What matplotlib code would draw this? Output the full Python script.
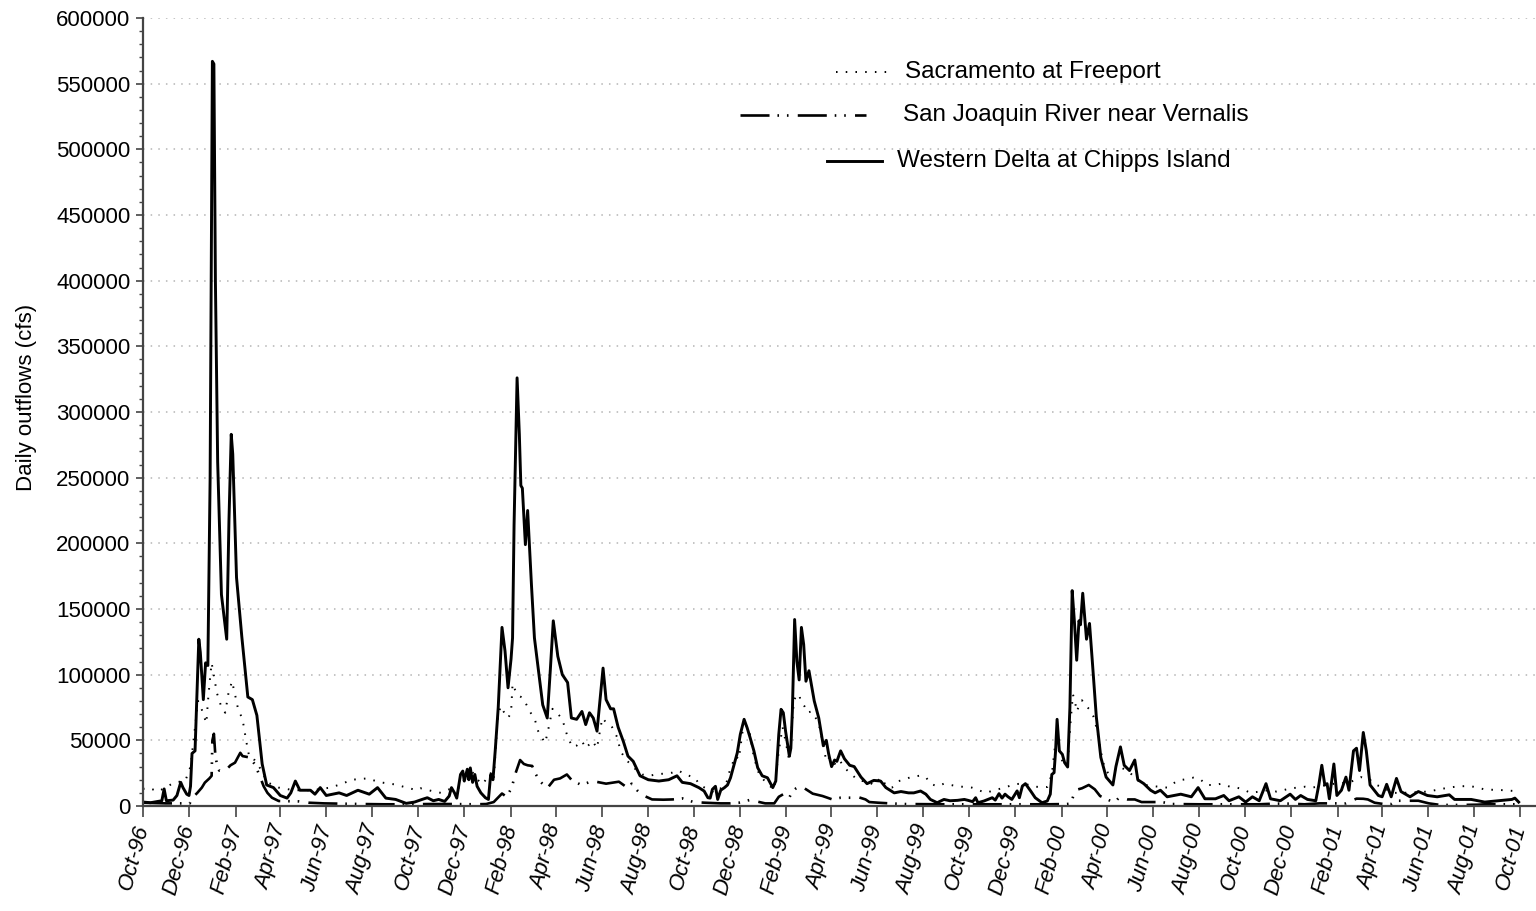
import matplotlib
matplotlib.use("Agg")
import matplotlib.pyplot as plt
import matplotlib.dates as mdates
from matplotlib.lines import Line2D
from matplotlib.ticker import MultipleLocator
import pandas as pd

plt.rcParams["font.family"] = ["Liberation Sans", "DejaVu Sans"]

# values: day offset from 1-Oct-1996, daily outflow (cfs)
start = pd.Timestamp("1996-10-01")

chipps_day = [0, 10, 20, 25, 28, 31, 40, 45, 50, 53, 58, 61, 63, 65, 69, 74, 76, 80, 83, 86,
              89, 92, 94, 96, 99, 104, 111, 114, 117, 119, 124, 131, 139, 145, 151, 158, 164,
              173, 182, 191, 196, 202, 208, 222, 228, 235, 243, 260, 270, 285, 300, 311, 322,
              335, 349, 360, 370, 377, 385, 392, 400, 406, 409, 413, 416, 421, 424, 426, 430,
              432, 434, 437, 440, 443, 448, 454, 458, 461, 464, 467, 471, 476, 480, 484, 488,
              490, 492, 496, 499, 501, 503, 507, 510, 515, 519, 524, 530, 536, 540, 544, 550,
              556, 563, 568, 575, 582, 587, 592, 597, 602, 610, 614, 620, 624, 630, 637, 643,
              650, 659, 670, 684, 697, 708, 715, 726, 737, 744, 749, 752, 755, 759, 762, 766,
              771, 775, 779, 784, 788, 792, 797, 801, 805, 810, 815, 821, 828, 835, 839, 843,
              846, 849, 852, 857, 859, 861, 864, 867, 870, 873, 876, 879, 883, 887, 890, 896,
              902, 906, 909, 913, 917, 920, 925, 930, 937, 943, 952, 960, 969, 978, 985, 996,
              1005, 1015, 1022, 1031, 1038, 1044, 1053, 1062, 1070, 1080, 1089, 1094, 1100,
              1104, 1107, 1115, 1126, 1130, 1135, 1139, 1143, 1147, 1152, 1159, 1162, 1166,
              1170, 1177, 1183, 1192, 1199, 1203, 1205, 1208, 1210, 1212, 1215, 1219, 1222,
              1226, 1229, 1232, 1235, 1238, 1241, 1243, 1246, 1251, 1255, 1259, 1264, 1270,
              1277, 1286, 1290, 1296, 1301, 1308, 1315, 1319, 1327, 1336, 1342, 1349, 1358,
              1376, 1390, 1399, 1408, 1422, 1433, 1440, 1453, 1462, 1471, 1480, 1489, 1495,
              1508, 1521, 1528, 1535, 1544, 1555, 1559, 1563, 1567, 1570, 1573, 1579, 1583,
              1589, 1595, 1599, 1605, 1609, 1613, 1618, 1622, 1627, 1638, 1643, 1649, 1655,
              1662, 1668, 1680, 1691, 1703, 1716, 1732, 1739, 1761, 1779, 1797, 1815, 1819, 1824]
chipps_cfs = [3000, 2500, 3500, 4000, 13000, 4000, 4500, 8000, 18000, 14000, 9000, 8000, 15000,
              40000, 42000, 127000, 117000, 81000, 109000, 107000, 250000, 567000, 565000,
              400000, 262000, 161000, 127000, 218000, 283000, 268000, 174000, 129000, 83000,
              81000, 69000, 32000, 16000, 14000, 8000, 6000, 10000, 19000, 12000, 12000, 9000,
              14000, 8000, 10000, 8000, 12000, 9000, 14000, 6000, 5000, 2000, 3000, 5000, 6300,
              4000, 5000, 3500, 7600, 14000, 10000, 6000, 24000, 26600, 19000, 28000, 20000,
              29000, 18000, 24000, 15000, 10000, 6300, 5000, 24000, 20000, 42000, 75000, 136000,
              118000, 90000, 112000, 128000, 214000, 326000, 283000, 244000, 242000, 199000,
              225000, 169000, 128000, 105000, 77000, 67000, 103000, 141000, 114000, 100000,
              94000, 67000, 66000, 72000, 62000, 71000, 67000, 57000, 105000, 81000, 74000,
              74000, 60000, 49000, 38000, 34000, 23000, 20000, 19000, 20000, 23000, 18000,
              17000, 14000, 11400, 6300, 6000, 12700, 15000, 5000, 12000, 14000, 16000, 21500,
              32000, 40600, 54600, 66000, 59600, 52000, 42000, 29200, 23000, 21500, 14000,
              19000, 54600, 73600, 71000, 57000, 38000, 44000, 72000, 142000, 110000, 96000,
              136000, 123000, 95000, 103000, 90000, 80000, 67000, 46000, 50000, 40000, 30000,
              35000, 34000, 42000, 36000, 31000, 30000, 22000, 17000, 19500, 19000, 14000,
              10000, 11000, 10000, 10000, 11400, 9000, 5000, 2500, 5000, 4000, 4300, 5000,
              4300, 3300, 6300, 2500, 3800, 6300, 4500, 9400, 6000, 9000, 7000, 5000, 11500,
              6300, 15200, 17000, 11400, 6300, 2500, 3800, 9000, 24000, 25400, 42000, 66000,
              42000, 39300, 33000, 29700, 75000, 164000, 140000, 111000, 141000, 138000,
              162000, 127000, 139000, 108000, 68000, 37000, 22000, 16000, 30000, 45000, 31000,
              27000, 35000, 20000, 17000, 12000, 10000, 12000, 7000, 9000, 7000, 14000, 5500,
              5500, 8000, 4000, 7000, 3000, 7000, 4000, 17000, 5500, 4000, 9000, 5000, 8000,
              5000, 4000, 16000, 31000, 16000, 17000, 5500, 32000, 8000, 12000, 22000, 12000,
              42000, 44000, 27000, 56000, 42000, 16000, 8000, 7000, 16500, 7000, 21000, 11000,
              7000, 11000, 8000, 7000, 8500, 5000, 5000, 3000, 4000, 5000, 6000, 3000]

sac_day = [0, 7, 20, 42, 56, 63, 69, 73, 77, 84, 86, 89, 91, 94, 98, 103, 109, 113, 118, 122,
           126, 132, 137, 141, 148, 155, 165, 180, 200, 225, 248, 262, 277, 297, 315, 333, 350,
           363, 368, 386, 395, 406, 420, 434, 441, 450, 461, 465, 470, 474, 478, 484, 488, 490,
           494, 498, 503, 507, 514, 520, 524, 529, 533, 536, 538, 543, 549, 556, 562, 569, 575,
           582, 587, 596, 602, 604, 609, 615, 622, 629, 633, 640, 646, 653, 662, 671, 680, 690,
           702, 710, 719, 732, 738, 749, 758, 766, 773, 779, 786, 790, 795, 799, 804, 810, 817,
           828, 837, 843, 848, 852, 857, 860, 863, 866, 870, 872, 877, 881, 886, 892, 897, 901,
           906, 910, 917, 923, 930, 938, 947, 954, 960, 969, 978, 987, 993, 1002, 1009, 1018,
           1029, 1038, 1044, 1053, 1062, 1071, 1080, 1089, 1099, 1108, 1118, 1128, 1137, 1146,
           1155, 1164, 1172, 1181, 1190, 1199, 1205, 1210, 1214, 1219, 1226, 1230, 1233, 1236,
           1238, 1241, 1245, 1248, 1255, 1260, 1265, 1269, 1275, 1281, 1287, 1292, 1298, 1305,
           1311, 1320, 1329, 1338, 1349, 1358, 1364, 1373, 1382, 1393, 1402, 1410, 1421, 1430,
           1441, 1450, 1459, 1468, 1481, 1492, 1503, 1512, 1521, 1532, 1541, 1550, 1560, 1580,
           1600, 1615, 1627, 1633, 1645, 1656, 1670, 1690, 1703, 1713, 1731, 1745, 1760, 1780,
           1799, 1819, 1824]
sac_cfs = [13000, 14000, 11000, 18000, 19000, 30000, 60000, 80000, 75000, 63000, 79000, 98000,
           109000, 99000, 86000, 77000, 71000, 85000, 95000, 85000, 74000, 66000, 49000, 37000,
           35000, 29000, 18000, 14000, 12000, 12000, 14000, 16500, 20000, 21000, 18000, 16500,
           14000, 12000, 13500, 11000, 10000, 12700, 14000, 29000, 21500, 16500, 25000, 20000,
           65000, 76000, 72000, 67000, 71000, 93000, 87500, 84000, 82500, 78700, 71000, 65000,
           57000, 52000, 48000, 54500, 60000, 74000, 71000, 66000, 54500, 45000, 46000, 49500,
           44000, 49500, 44000, 51000, 67000, 63000, 60000, 52000, 42000, 35500, 32000, 28000,
           24000, 23000, 24000, 24600, 25400, 27000, 24000, 21500, 16000, 12700, 10000, 13500,
           16500, 29000, 38000, 35500, 57000, 62000, 57000, 37000, 24000, 16500, 12700, 42000,
           60000, 49500, 34000, 58000, 80000, 84000, 85000, 80000, 76000, 71000, 72000, 67000,
           60000, 49500, 34000, 37000, 32000, 35500, 29000, 25000, 20000, 19000, 19000, 16000,
           21500, 14500, 14000, 19000, 20000, 22000, 23000, 22000, 17000, 15000, 17000, 16000,
           15000, 14500, 14000, 12000, 10000, 12000, 13200, 14700, 16500, 17000, 16500, 14700,
           14500, 14500, 24000, 49500, 44000, 34000, 32000, 65000, 85000, 78700, 72000, 76000,
           80500, 77400, 73600, 68500, 58000, 44000, 29000, 24000, 25400, 29000, 29000, 26600,
           24000, 19000, 16000, 15200, 14500, 14000, 16500, 19500, 20300, 21600, 20300, 16000,
           16000, 17000, 14700, 14000, 12700, 10000, 11000, 12000, 11000, 12000, 13500, 14000,
           14700, 14000, 15000, 17000, 18000, 22000, 20000, 16500, 14000, 10000, 10000, 10500,
           11000, 12000, 14000, 15000, 15200, 12500, 12200, 11400, 11000]

sj_day = [0, 30, 56, 62, 65, 72, 78, 82, 88, 91, 92, 94, 96, 98, 101, 107, 111, 116, 122, 129,
          132, 141, 148, 154, 160, 165, 171, 180, 207, 220, 240, 260, 290, 320, 350, 380, 410,
          440, 455, 465, 470, 476, 482, 487, 490, 494, 500, 505, 510, 516, 521, 526, 536, 545,
          553, 562, 568, 581, 596, 605, 614, 631, 642, 648, 655, 665, 675, 690, 702, 715, 730,
          745, 766, 779, 790, 804, 815, 825, 837, 843, 849, 857, 861, 866, 870, 877, 888, 901,
          914, 925, 938, 947, 958, 963, 975, 990, 1010, 1030, 1060, 1090, 1120, 1150, 1180,
          1200, 1225, 1230, 1235, 1240, 1245, 1254, 1262, 1269, 1285, 1290, 1294, 1305, 1315,
          1324, 1351, 1365, 1400, 1440, 1480, 1500, 1520, 1540, 1560, 1580, 1595, 1609, 1618,
          1624, 1633, 1645, 1655, 1662, 1691, 1705, 1720, 1749, 1770, 1780, 1806, 1824]
sj_cfs = [2500, 2000, 2000, 2000, 6000, 10000, 14000, 17800, 21000, 23000, 50000, 55000, 38000,
          32000, 27000, 27500, 28000, 31000, 33000, 40500, 38000, 37000, 32000, 24000, 15000,
          10000, 6300, 3800, 3500, 2500, 2000, 1800, 1500, 1300, 1300, 1500, 1500, 1300, 1500,
          3000, 6000, 9500, 7000, 12000, 16500, 25000, 35000, 32000, 31000, 30500, 24000, 19000,
          13500, 20000, 21000, 24000, 20000, 16000, 19000, 18000, 17000, 18500, 14000, 17000,
          12000, 7600, 5000, 4800, 5000, 5800, 3000, 2500, 2000, 2000, 2500, 4500, 3300, 2000,
          2000, 7000, 9000, 6500, 11000, 13500, 14700, 13500, 9400, 7600, 5000, 6300, 6300, 7000,
          5000, 3000, 2500, 2000, 1500, 1400, 1300, 1300, 1300, 1300, 1300, 1300, 1500, 1800,
          10000, 12700, 13500, 16000, 12700, 7600, 3300, 3800, 6300, 5000, 5000, 3000, 3000,
          1500, 1300, 1300, 1300, 1800, 1800, 1300, 2000, 2000, 2000, 5600, 5500, 5000, 2500,
          1500, 1500, 4000, 4000, 2000, 800, 800, 1000, 1300, 1300, 1300]

labels = ["Sacramento at Freeport", "San Joaquin River near Vernalis",
          "Western Delta at Chipps Island"]


def to_dates(days):
    return start + pd.to_timedelta(days, unit="D")


fig = plt.figure(figsize=(15.36, 9.11), dpi=100)
ax = fig.add_axes([143 / 1536, 1 - 806 / 911, 1 - 143 / 1536, 788 / 911])

sac_style = (0, (0.8, 4.2))
sj_style = (0, (11, 3, 0.6, 3, 0.6, 3.5))

ax.plot(to_dates(sac_day), sac_cfs, color="black", lw=1.4, ls=sac_style)
ax.plot(to_dates(sj_day), sj_cfs, color="black", lw=1.9, ls=sj_style)
ax.plot(to_dates(chipps_day), chipps_cfs, color="black", lw=2.1, solid_joinstyle="round")

ax.set_xlim(start, start + pd.Timedelta(days=1847))
ax.set_ylim(0, 600000)

ax.yaxis.set_major_locator(MultipleLocator(50000))
ax.yaxis.set_minor_locator(MultipleLocator(10000))
ax.grid(axis="y", which="major", color="#b4b4b4", ls=(0, (1, 4)), lw=1.1)
ax.set_axisbelow(True)

ax.xaxis.set_major_locator(mdates.MonthLocator(bymonth=[2, 4, 6, 8, 10, 12]))
ax.xaxis.set_major_formatter(mdates.DateFormatter("%b-%y"))

for s in ["top", "right"]:
    ax.spines[s].set_visible(False)
for s in ["left", "bottom"]:
    ax.spines[s].set_color("#444444")
    ax.spines[s].set_linewidth(1.6)

ax.tick_params(axis="y", which="major", direction="out", length=5, width=1.2,
               color="#444444", labelsize=16, pad=4)
ax.tick_params(axis="y", which="minor", direction="out", length=3, width=1.0,
               color="#444444")
ax.tick_params(axis="x", which="major", direction="out", length=8, width=1.2,
               color="#444444", labelsize=16, pad=6)
for lab in ax.get_xticklabels():
    lab.set_rotation(75)
    lab.set_ha("right")
    lab.set_va("center")
    lab.set_rotation_mode("anchor")
    lab.set_style("italic")

ax.set_ylabel("Daily outflows (cfs)", fontsize=16)
ax.yaxis.set_label_coords(-0.076, 0.518)

# hand-placed legend entries, as in the original
W, H = 1536, 911
def legend_entry(x0, x1, y, tx, text, **kw):
    fig.add_artist(Line2D([x0 / W, x1 / W], [1 - y / H, 1 - y / H],
                          transform=fig.transFigure, color="black", **kw))
    fig.text(tx / W, 1 - y / H, text, fontsize=17.5, va="center", ha="left")

legend_entry(836, 892, 72, 905, labels[0], lw=1.4, ls=sac_style)
legend_entry(740, 866, 115, 903, labels[1], lw=1.9, ls=sj_style)
legend_entry(827, 882, 161, 897, labels[2], lw=2.1)

fig.savefig("out.png", dpi=100)
